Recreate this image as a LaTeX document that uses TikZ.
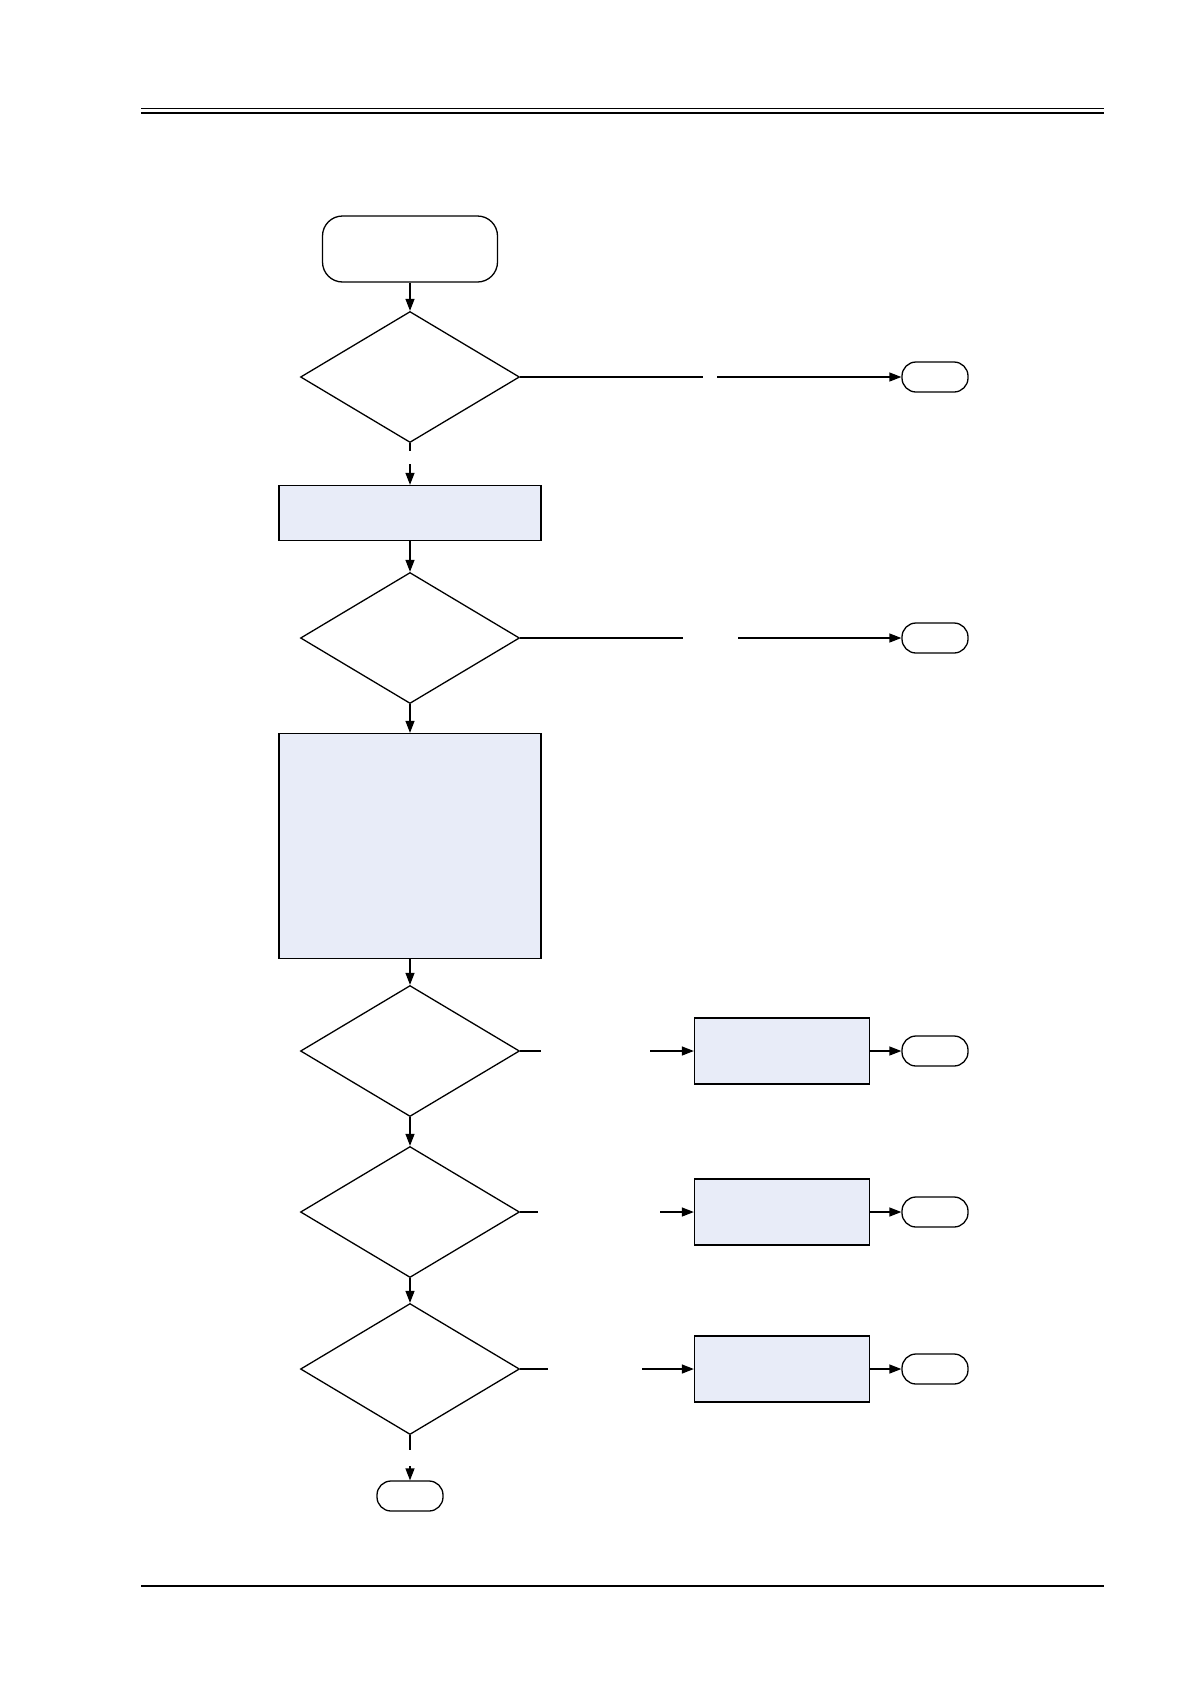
\documentclass[tikz,border=0pt]{standalone}
\usepackage{tikz}
\usetikzlibrary{arrows.meta,shapes.geometric}
\definecolor{boxfill}{RGB}{232,236,248}

\begin{document}
\begin{tikzpicture}[x=1pt, y=-1pt, line width=1.3pt,
  startbox/.style={draw, rounded corners=20pt, minimum width=175pt, minimum height=66pt, inner sep=0pt},
  endbox/.style={draw, rounded corners=14pt, minimum width=66pt, minimum height=30pt, inner sep=0pt},
  decide/.style={draw, diamond, aspect=1.67, minimum width=219pt, minimum height=131pt, inner sep=0pt},
  procbox/.style={draw, fill=boxfill, minimum width=262pt, inner sep=0pt},
  sidebox/.style={draw, fill=boxfill, minimum width=175pt, minimum height=66pt, inner sep=0pt},
  arr/.style={-{Triangle[length=12pt,width=9pt]}}]
  \useasboundingbox (0,0) rectangle (1190,1684);
  % Kopf- und Fusslinie
  \draw[line width=1.2pt] (141,108.5) -- (1104,108.5);
  \draw[line width=2.6pt] (141,113) -- (1104,113);
  \draw[line width=2.2pt] (141,1586) -- (1104,1586);
  % Hauptspalte
  \node[startbox] (start) at (410,249) {};
  \node[decide] (q1) at (410,377) {};
  \node[procbox, minimum height=55pt] (init) at (410,513) {};
  \node[decide] (q2) at (410,638) {};
  \node[procbox, minimum height=225pt] (work) at (410,846) {};
  \node[decide] (q3) at (410,1051) {};
  \node[decide] (q4) at (410,1212) {};
  \node[decide] (q5) at (410,1369) {};
  \node[endbox] (stop) at (410,1496) {};
  % rechte Seite
  \node[endbox] (stop1) at (935,377) {};
  \node[endbox] (stop2) at (935,638) {};
  \node[sidebox] (fix3) at (782,1051) {};
  \node[sidebox] (fix4) at (782,1212) {};
  \node[sidebox] (fix5) at (782,1369) {};
  \node[endbox] (stop3) at (935,1051) {};
  \node[endbox] (stop4) at (935,1212) {};
  \node[endbox] (stop5) at (935,1369) {};
  % Luecken der Verbinder
  \coordinate (g1a) at (703,377);  \coordinate (g1b) at (717,377);
  \coordinate (g2a) at (683,638);  \coordinate (g2b) at (738,638);
  \coordinate (g3a) at (541,1051); \coordinate (g3b) at (650,1051);
  \coordinate (g4a) at (538,1212); \coordinate (g4b) at (660,1212);
  \coordinate (g5a) at (548,1369); \coordinate (g5b) at (642,1369);
  \coordinate (g6a) at (410,451);  \coordinate (g6b) at (410,464);
  \coordinate (g7a) at (410,1450); \coordinate (g7b) at (410,1466);
  % Verbinder
  \draw[arr] (start) -- (q1);
  \draw (q1.south) -- (g6a);
  \draw[arr] (g6b) -- (init);
  \draw[arr] (init) -- (q2);
  \draw[arr] (q2) -- (work);
  \draw[arr] (work) -- (q3);
  \draw[arr] (q3) -- (q4);
  \draw[arr] (q4) -- (q5);
  \draw (q5.south) -- (g7a);
  \draw[arr] (g7b) -- (stop);
  \draw (q1.east) -- (g1a);
  \draw[arr] (g1b) -- (stop1);
  \draw (q2.east) -- (g2a);
  \draw[arr] (g2b) -- (stop2);
  \foreach \i in {3,4,5} {
    \draw (q\i.east) -- (g\i a);
    \draw[arr] (g\i b) -- (fix\i);
    \draw[arr] (fix\i) -- (stop\i);
  }
\end{tikzpicture}
\end{document}
